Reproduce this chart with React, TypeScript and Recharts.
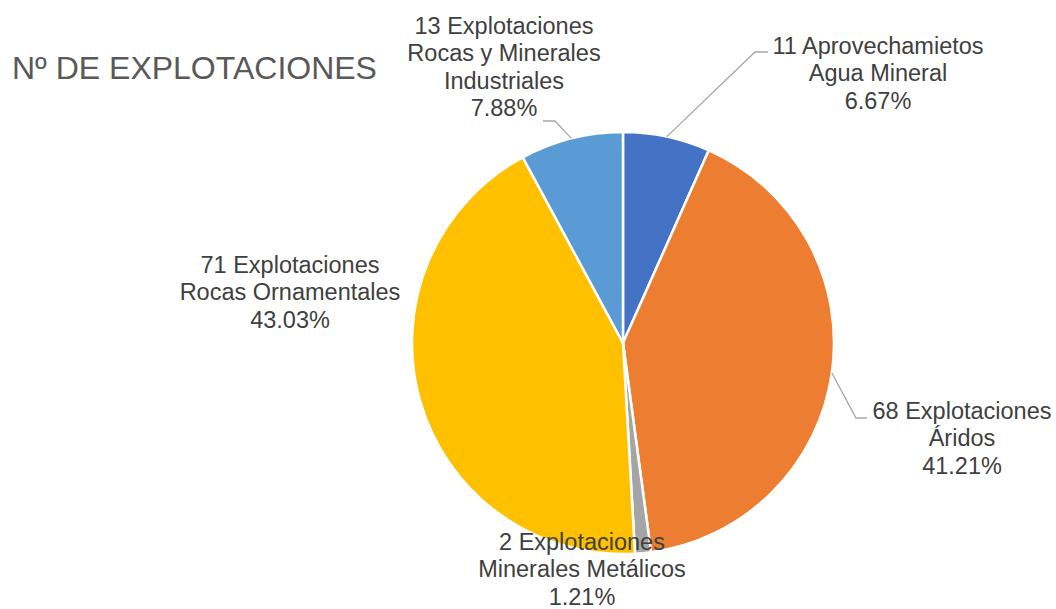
import React from 'react';
import { PieChart, Pie, Cell } from 'recharts';

// datos
const counts = [11, 68, 2, 71, 13];
const firstLines = [
  '11 Aprovechamietos',
  '68 Explotaciones',
  '2 Explotaciones',
  '71 Explotaciones',
  '13 Explotaciones',
];
const categoryLines = [
  ['Agua Mineral'],
  ['Áridos'],
  ['Minerales Metálicos'],
  ['Rocas Ornamentales'],
  ['Rocas y Minerales', 'Industriales'],
];
const colors = ['#4472C4', '#ED7D31', '#A5A5A5', '#FFC000', '#5B9BD5'];

const total = counts.reduce((s, v) => s + v, 0);
const chartData = counts.map((v, i) => ({ name: firstLines[i], value: v }));

// colocación de etiquetas, relativa al centro del gráfico
const labelLayout = [
  { dx: 255, dy: -289, line: [[132, -291], [145, -291]] },
  { dx: 339, dy: 76, line: [[233, 75], [244, 75]] },
  { dx: -41, dy: 207, line: null },
  { dx: -333, dy: -70, line: null },
  { dx: -119, dy: -309, line: [[-68, -222], [-80, -222]] },
];

const RAD = Math.PI / 180;
const LINE_H = 27.3;

function renderLabel(props: any) {
  const { cx, cy, midAngle, outerRadius, index } = props;
  const lay = labelLayout[index];
  const lines = [
    firstLines[index],
    ...categoryLines[index],
    `${((counts[index] / total) * 100).toFixed(2)}%`,
  ];
  let leader = null;
  if (lay.line) {
    const sx = cx + outerRadius * Math.cos(-midAngle * RAD);
    const sy = cy + outerRadius * Math.sin(-midAngle * RAD);
    const pts = [[sx, sy], ...lay.line.map(([x, y]) => [cx + x, cy + y])];
    leader = (
      <polyline
        points={pts.map((p) => p.join(',')).join(' ')}
        fill="none"
        stroke="#A6A6A6"
        strokeWidth={1.3}
      />
    );
  }
  return (
    <g key={`lbl-${index}`}>
      {leader}
      <text
        x={cx + lay.dx}
        y={cy + lay.dy}
        textAnchor="middle"
        fill="#404040"
        fontSize={23.5}
        fontFamily="'Liberation Sans', Arial, sans-serif"
      >
        {lines.map((t, i) => (
          <tspan key={i} x={cx + lay.dx} y={cy + lay.dy + i * LINE_H}>
            {t}
          </tspan>
        ))}
      </text>
    </g>
  );
}

export default function App() {
  return (
    <div style={{ position: 'absolute', left: 0, top: 0, width: 1056, height: 609, background: '#fff' }}>
      <div
        style={{
          position: 'absolute',
          left: 12,
          top: 49,
          fontSize: 32,
          color: '#595959',
          fontFamily: "'Liberation Sans', Arial, sans-serif",
          whiteSpace: 'nowrap',
          lineHeight: 1.2,
        }}
      >
        Nº DE EXPLOTACIONES
      </div>
      <PieChart width={1056} height={609} margin={{ top: 0, right: 0, bottom: 0, left: 0 }}>
        <Pie
          data={chartData}
          dataKey="value"
          nameKey="name"
          cx={623}
          cy={343}
          outerRadius={211}
          startAngle={90}
          endAngle={-270}
          stroke="#ffffff"
          strokeWidth={2.5}
          label={renderLabel}
          labelLine={false}
          isAnimationActive={false}
        >
          {chartData.map((_, i) => (
            <Cell key={`cell-${i}`} fill={colors[i]} />
          ))}
        </Pie>
      </PieChart>
    </div>
  );
}
